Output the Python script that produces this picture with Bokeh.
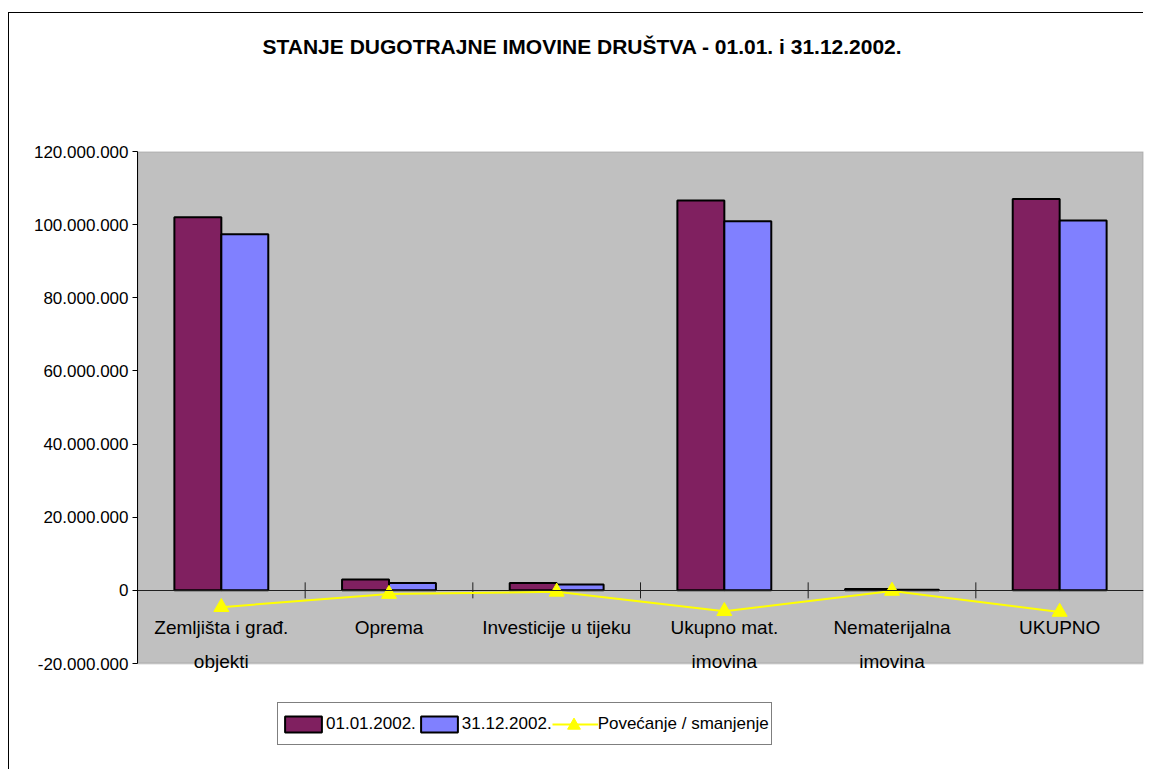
import math
from bokeh.plotting import figure
from bokeh.models import (FactorRange, Range1d, FixedTicker, CategoricalAxis, ColumnDataSource,
                          Legend, LegendItem, Title, BoxAnnotation)
from bokeh.transform import dodge
from bokeh.embed import file_html
from bokeh.resources import INLINE

# ---- data ----
categories = ["Zemljišta i građ.\nobjekti", "Oprema", "Investicije u tijeku",
              "Ukupno mat.\nimovina", "Nematerijalna\nimovina", "UKUPNO"]
stanje_0101 = [102.0e6, 3.0e6, 2.0e6, 106.6e6, 0.35e6, 107.0e6]
stanje_3112 = [97.4e6, 2.0e6, 1.6e6, 100.9e6, 0.2e6, 101.1e6]
promjena = [-4.6e6, -1.0e6, -0.4e6, -5.7e6, -0.15e6, -5.9e6]
series_names = ["01.01.2002.", "31.12.2002.", "Povećanje / smanjenje"]
y_ticks = [-20e6, 0, 20e6, 40e6, 60e6, 80e6, 100e6, 120e6]
y_tick_labels = ["-20.000.000", "0", "20.000.000", "40.000.000", "60.000.000",
                 "80.000.000", "100.000.000", "120.000.000"]
title_text = "STANJE DUGOTRAJNE IMOVINE DRUŠTVA - 01.01. i 31.12.2002."

FONT = "Liberation Sans"
C1, C2, C3 = "#802060", "#8080FF", "#FFFF00"

# layout (pixels)
W, H = 1135, 757
B_LEFT, B_RIGHT, B_TOP, B_BOTTOM = 128, 1, 138, 20
AREA_H = 512                      # pixel height of the grey plot area
frame_h = H - B_TOP - B_BOTTOM
y_min, y_max = y_ticks[0], y_ticks[-1]
y_start = y_max - (y_max - y_min) * frame_h / AREA_H   # extra room below for the legend

src = ColumnDataSource(dict(cat=categories, a=stanje_0101, b=stanje_3112, d=promjena))

p = figure(x_range=FactorRange(*categories), y_range=Range1d(y_start, y_max),
           width=W, height=H, output_backend="svg", toolbar_location=None,
           x_axis_location=None, min_border_left=B_LEFT, min_border_right=B_RIGHT,
           min_border_top=B_TOP, min_border_bottom=B_BOTTOM,
           background_fill_color="white", border_fill_color="white")
p.styles = {"margin-left": "9px", "margin-top": "13px", "box-shadow": "-1px -1px 0 0 #000000"}
p.outline_line_color = None
p.xgrid.visible = False
p.ygrid.visible = False

# grey plot area
area = BoxAnnotation(top=y_max, bottom=y_min, fill_color="#C0C0C0", fill_alpha=1,
                     line_color="#808080", line_width=2, level="underlay")
p.add_layout(area)

# y axis
ya = p.yaxis[0]
ya.bounds = (y_min, y_max)
ya.ticker = FixedTicker(ticks=y_ticks)
ya.major_label_overrides = {t: l for t, l in zip(y_ticks, y_tick_labels)}
ya.major_tick_out = 5
ya.major_tick_in = 0
ya.minor_tick_line_color = None
ya.axis_line_color = "black"
ya.major_tick_line_color = "black"
ya.major_label_standoff = 4
ya.major_label_text_font = FONT
ya.major_label_text_font_size = "17px"
ya.major_label_text_color = "black"

# bars
r1 = p.vbar(x=dodge("cat", -0.14, range=p.x_range), top="a", width=0.28, source=src,
            fill_color=C1, line_color="black", line_width=2)
r2 = p.vbar(x=dodge("cat", 0.14, range=p.x_range), top="b", width=0.28, source=src,
            fill_color=C2, line_color="black", line_width=2)

# zero-line category axis
xa = CategoricalAxis(fixed_location=0)
xa.axis_line_color = "#202020"
xa.major_tick_line_color = None
xa.major_tick_out = 0
xa.major_tick_in = 0
xa.major_label_standoff = 27
xa.major_label_text_font = FONT
xa.major_label_text_font_size = "19px"
xa.major_label_text_color = "black"
xa.major_label_text_line_height = 1.6
p.add_layout(xa, "below")

# boundary ticks on the zero line
bounds = list(range(1, len(categories)))
p.scatter(x=bounds, y=[0] * len(bounds), marker="dash", angle=math.pi / 2, size=16,
          line_color="#202020", line_width=1)

# change line
r3 = p.line(x="cat", y="d", source=src, line_color=C3, line_width=2)
r4 = p.scatter(x="cat", y="d", source=src, marker="triangle", size=15,
               fill_color=C3, line_color=C3)

legend = Legend(items=[LegendItem(label=series_names[0], renderers=[r1]),
                       LegendItem(label=series_names[1], renderers=[r2]),
                       LegendItem(label=series_names[2], renderers=[r3])],
                orientation="horizontal", location=(140, 5),
                glyph_width=46, glyph_height=20, label_standoff=0, spacing=0,
                label_height=37, padding=2, margin=0,
                border_line_color="black", border_line_width=1,
                background_fill_color="white", label_text_font=FONT,
                label_text_font_size="17px", label_text_color="black")
p.add_layout(legend)

# larger triangle marker drawn over the line swatch of the legend
marker_legend = Legend(items=[LegendItem(label=" ", renderers=[r4])],
                       orientation="horizontal", location=(418, 9.5),
                       glyph_width=37, glyph_height=32, label_standoff=0, padding=0,
                       margin=0, label_width=0, label_height=0,
                       border_line_color=None, background_fill_alpha=0,
                       label_text_font=FONT, label_text_font_size="17px")
p.add_layout(marker_legend)

# title (spacer first so the real title sits higher)
spacer = Title(text=" ", text_font_size="10px", standoff=80)
p.add_layout(spacer, "above")
title = Title(text=title_text, align="left", offset=125, vertical_align="middle",
              text_font=FONT, text_font_size="21px", text_font_style="bold",
              text_color="black", standoff=0)
p.add_layout(title, "above")

open("out.html", "w").write(file_html(p, INLINE))
